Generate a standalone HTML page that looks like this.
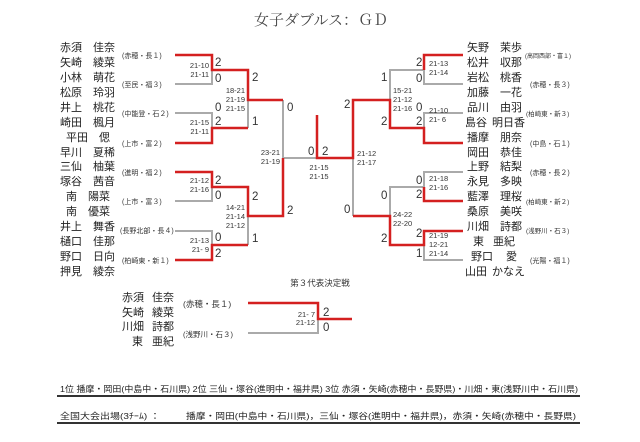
<!DOCTYPE html>
<html><head><meta charset="utf-8"><style>
body{margin:0;background:#fff;}
svg{display:block;font-family:"Liberation Sans","Noto Sans CJK JP",sans-serif;}
.n{font-size:11px;fill:#222;}
.s{font-size:7px;fill:#333;}
.sc{font-size:7.5px;fill:#333;}
.g{font-size:11.5px;fill:#333;}
.r{fill:none;stroke:#d42020;stroke-width:2.5;}
.y{fill:none;stroke:#aaa;stroke-width:2;}
</style></head><body>
<svg width="640" height="442" viewBox="0 0 640 442">
<text x="321" y="25" text-anchor="middle" font-family="Liberation Serif,Noto Serif CJK SC,serif" font-size="15" fill="#444">女子ダブルス：ＧＤ</text>

<!-- left names -->
<g class="n">
<text x="60" y="51">赤須</text><text x="93" y="51">佳奈</text>
<text x="60" y="66">矢崎</text><text x="93" y="66">綾菜</text>
<text x="60" y="81">小林</text><text x="93" y="81">萌花</text>
<text x="60" y="96">松原</text><text x="93" y="96">玲羽</text>
<text x="60" y="111">井上</text><text x="93" y="111">桃花</text>
<text x="60" y="126">崎田</text><text x="93" y="126">楓月</text>
<text x="66" y="141">平田</text><text x="99" y="141">偲</text>
<text x="60" y="156">早川</text><text x="93" y="156">夏稀</text>
<text x="60" y="170">三仙</text><text x="93" y="170">柚葉</text>
<text x="60" y="185">塚谷</text><text x="93" y="185">茜音</text>
<text x="66" y="200">南</text><text x="88" y="200">陽菜</text>
<text x="66" y="215">南</text><text x="88" y="215">優菜</text>
<text x="60" y="230">井上</text><text x="93" y="230">舞香</text>
<text x="60" y="245">樋口</text><text x="93" y="245">佳那</text>
<text x="60" y="260">野口</text><text x="93" y="260">日向</text>
<text x="60" y="275">押見</text><text x="93" y="275">綾奈</text>
</g>
<g class="s">
<text x="122" y="58">(赤穂・長１)</text>
<text x="122" y="87">(至民・福３)</text>
<text x="122" y="116">(中能登・石２)</text>
<text x="122" y="146">(上市・富２)</text>
<text x="122" y="175">(進明・福２)</text>
<text x="122" y="204">(上市・富３)</text>
<text x="120" y="233">(長野北部・長４)</text>
<text x="122" y="263">(柏崎東・新１)</text>
</g>

<!-- right names -->
<g class="n">
<text x="467" y="51">矢野</text><text x="500" y="51">茉歩</text>
<text x="467" y="66">松井</text><text x="500" y="66">収那</text>
<text x="467" y="81">岩松</text><text x="500" y="81">桃香</text>
<text x="467" y="96">加藤</text><text x="500" y="96">一花</text>
<text x="467" y="111">品川</text><text x="500" y="111">由羽</text>
<text x="465" y="126">島谷</text><text x="492" y="126">明日香</text>
<text x="467" y="141">播摩</text><text x="500" y="141">朋奈</text>
<text x="467" y="156">岡田</text><text x="500" y="156">恭佳</text>
<text x="467" y="170">上野</text><text x="500" y="170">結梨</text>
<text x="467" y="185">永見</text><text x="500" y="185">多映</text>
<text x="467" y="200">藍澤</text><text x="500" y="200">理桜</text>
<text x="467" y="215">桑原</text><text x="500" y="215">美咲</text>
<text x="467" y="230">川畑</text><text x="500" y="230">詩都</text>
<text x="473" y="245">東</text><text x="493" y="245">亜紀</text>
<text x="471" y="260">野口</text><text x="506" y="260">愛</text>
<text x="465" y="275">山田</text><text x="492" y="275">かなえ</text>
</g>
<g class="s">
<text x="525" y="58" font-size="6">(高岡西部・富１)</text>
<text x="530" y="87">(赤穂・長３)</text>
<text x="526" y="116" font-size="6.5">(柏崎東・新３)</text>
<text x="530" y="146">(中島・石１)</text>
<text x="530" y="175">(赤穂・長２)</text>
<text x="526" y="204" font-size="6.5">(柏崎東・新２)</text>
<text x="526" y="233" font-size="6.5">(浅野川・石３)</text>
<text x="530" y="263">(光陽・福１)</text>
</g>

<!-- lines -->
<path class="y" d="M175,84H212V70 M175,113H212V128 M248,128V100 M175,201H212V187 M175,231H212V245 M248,245V216 M283,100V158H317"/>
<path class="r" d="M175,55H212V70H248V100H283 M175,143H212V128H248 M175,172H212V187H248V216H283V158 M175,260H212V245H248"/>
<path class="y" d="M424,70H390V100 M463,84H424V70 M463,113H424V128 M353,158V216 M463,172H424V187 M424,187H390V216 M463,260H424V245"/>
<path class="r" d="M463,55H424V70 M317,115V158H353V100H390V128H424V143H463 M353,216H390V245H424V231H463 M463,201H424V187"/>

<!-- scores left -->
<g class="g">
<text x="215" y="66">2</text><text x="215" y="82">0</text>
<text x="215" y="111">0</text><text x="215" y="125">2</text>
<text x="252" y="81">2</text><text x="252" y="125">1</text>
<text x="215" y="184">2</text><text x="215" y="199">0</text>
<text x="215" y="241">0</text><text x="215" y="257">2</text>
<text x="252" y="200">2</text><text x="252" y="242">1</text>
<text x="287" y="111">0</text><text x="287" y="214">2</text>
<text x="308" y="155">0</text><text x="322" y="155">2</text>
<text x="344" y="108">2</text><text x="344" y="213">0</text>
<text x="381" y="81">1</text><text x="381" y="125">2</text>
<text x="416" y="66">2</text><text x="416" y="82">0</text>
<text x="416" y="111">0</text><text x="416" y="125">2</text>
<text x="381" y="199">0</text><text x="381" y="242">2</text>
<text x="416" y="184">0</text><text x="416" y="198">2</text>
<text x="416" y="237">2</text><text x="416" y="257">1</text>
</g>
<g class="sc">
<text x="209" y="68" text-anchor="end">21-10</text><text x="209" y="77" text-anchor="end">21-11</text>
<text x="209" y="125" text-anchor="end">21-15</text><text x="209" y="134" text-anchor="end">21-11</text>
<text x="245" y="93" text-anchor="end">18-21</text><text x="245" y="102" text-anchor="end">21-19</text><text x="245" y="111" text-anchor="end">21-15</text>
<text x="209" y="183" text-anchor="end">21-12</text><text x="209" y="192" text-anchor="end">21-16</text>
<text x="209" y="243" text-anchor="end">21-13</text><text x="209" y="252" text-anchor="end">21- 9</text>
<text x="245" y="210" text-anchor="end">14-21</text><text x="245" y="219" text-anchor="end">21-14</text><text x="245" y="228" text-anchor="end">21-12</text>
<text x="280" y="155" text-anchor="end">23-21</text><text x="280" y="164" text-anchor="end">21-19</text>
<text x="319" y="170" text-anchor="middle">21-15</text><text x="319" y="179" text-anchor="middle">21-15</text>
<text x="357" y="156">21-12</text><text x="357" y="165">21-17</text>
<text x="393" y="93">15-21</text><text x="393" y="102">21-12</text><text x="393" y="111">21-16</text>
<text x="429" y="66">21-13</text><text x="429" y="75">21-14</text>
<text x="429" y="113">21-10</text><text x="429" y="122">21- 6</text>
<text x="429" y="181">21-18</text><text x="429" y="190">21-16</text>
<text x="393" y="217">24-22</text><text x="393" y="226">22-20</text>
<text x="429" y="238">21-19</text><text x="429" y="247">12-21</text><text x="429" y="256">21-14</text>
</g>

<!-- 3rd place -->
<text x="320" y="286" text-anchor="middle" font-size="8.5" fill="#333">第３代表決定戦</text>
<g class="n">
<text x="122" y="301">赤須</text><text x="152" y="301">佳奈</text>
<text x="122" y="316">矢崎</text><text x="152" y="316">綾菜</text>
<text x="122" y="330">川畑</text><text x="152" y="330">詩都</text>
<text x="132" y="345">東</text><text x="152" y="345">亜紀</text>
</g>
<text x="183" y="307" font-size="8.5" fill="#333">(赤穂・長１)</text>
<text x="183" y="337" font-size="7.5" fill="#333">(浅野川・石３)</text>
<path class="y" d="M248,333H318V319"/>
<path class="r" d="M248,303H318V319H352"/>
<text x="323" y="316" class="g">2</text><text x="323" y="331" class="g">0</text>
<text x="315" y="317" class="sc" text-anchor="end" font-size="6.5">21- 7</text>
<text x="315" y="325" class="sc" text-anchor="end" font-size="6.5">21-12</text>

<!-- footer -->
<text x="60" y="392" font-size="8.5" fill="#222" textLength="518" lengthAdjust="spacingAndGlyphs">1位  播摩・岡田(中島中・石川県)  2位  三仙・塚谷(進明中・福井県)  3位  赤須・矢崎(赤穂中・長野県)・川畑・東(浅野川中・石川県)</text>
<rect x="57" y="395" width="523" height="2" fill="#333"/>
<text x="60" y="419" font-size="8.5" fill="#222" textLength="100" lengthAdjust="spacingAndGlyphs">全国大会出場(3ﾁｰﾑ) ：</text>
<text x="186" y="419" font-size="8.5" fill="#222" textLength="390" lengthAdjust="spacingAndGlyphs">播摩・岡田(中島中・石川県)，三仙・塚谷(進明中・福井県)，赤須・矢崎(赤穂中・長野県)</text>
<rect x="57" y="422" width="523" height="2" fill="#333"/>
</svg>
</body></html>
